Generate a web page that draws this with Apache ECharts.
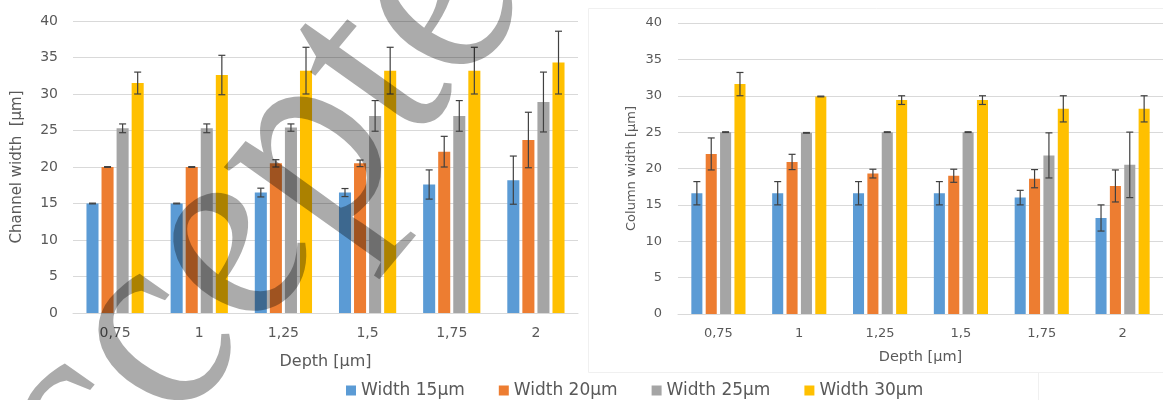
<!DOCTYPE html>
<html>
<head>
<meta charset="utf-8">
<script src="https://cdn.jsdelivr.net/npm/echarts@6/dist/echarts.min.js"></script>
<style>
html,body{margin:0;padding:0;background:#fff;}
#chart{width:1163px;height:400px;}
</style>
</head>
<body>
<div id="chart"></div>
<script>
// ---- data ----
const categories = ['0,75', '1', '1,25', '1,5', '1,75', '2'];
const seriesNames = ['Width 15µm', 'Width 20µm', 'Width 25µm', 'Width 30µm'];

// Left chart: channel width
const channel15 = [15.0, 15.0, 16.5, 16.5, 17.6, 18.2];
const channel15Err = [0.05, 0.05, 0.6, 0.55, 2.0, 3.3];
const channel20 = [20.0, 20.0, 20.5, 20.5, 22.1, 23.7];
const channel20Err = [0.05, 0.05, 0.5, 0.45, 2.1, 3.8];
const channel25 = [25.3, 25.3, 25.4, 27.0, 27.0, 28.9];
const channel25Err = [0.6, 0.6, 0.5, 2.1, 2.1, 4.1];
const channel30 = [31.5, 32.6, 33.2, 33.2, 33.2, 34.3];
const channel30Err = [1.5, 2.7, 3.2, 3.2, 3.2, 4.3];

// Right chart: column width
const column15 = [16.6, 16.6, 16.6, 16.6, 16.0, 13.2];
const column15Err = [1.6, 1.6, 1.6, 1.6, 1.0, 1.8];
const column20 = [22.0, 20.9, 19.3, 19.0, 18.6, 17.6];
const column20Err = [2.2, 1.05, 0.6, 0.9, 1.25, 2.2];
const column25 = [25.0, 24.9, 25.0, 25.0, 21.8, 20.5];
const column25Err = [0.05, 0.05, 0.05, 0.05, 3.1, 4.5];
const column30 = [31.6, 29.9, 29.4, 29.4, 28.2, 28.2];
const column30Err = [1.6, 0.05, 0.6, 0.6, 1.8, 1.8];

const yTicks = [0, 5, 10, 15, 20, 25, 30, 35, 40];
const watermarkText = 'Accepted';
// ---------------

const colors = ['#5B9BD5', '#ED7D31', '#A5A5A5', '#FFC000'];
const textColor = '#595959';
const gridColor = '#d9d9d9';
const FONT = '"DejaVu Sans", sans-serif';

const leftVals = [channel15, channel20, channel25, channel30];
const leftErrs = [channel15Err, channel20Err, channel25Err, channel30Err];
const rightVals = [column15, column20, column25, column30];
const rightErrs = [column15Err, column20Err, column25Err, column30Err];

const layouts = [
  { catGap: 0.32, barGap: 0.25 },
  { catGap: 0.33, barGap: 0.30 }
];

function errorRenderer(seriesIdx, layout) {
  return function (params, api) {
    const ci = api.value(0), v = api.value(1), e = api.value(2);
    const band = api.size([1, 0])[0];
    const group = band * (1 - layout.catGap);
    const bw = group / (4 + 3 * layout.barGap);
    const x0 = api.coord([ci, v])[0] - group / 2 + seriesIdx * bw * (1 + layout.barGap) + bw / 2;
    const yHi = api.coord([ci, v + e])[1];
    const yLo = api.coord([ci, v - e])[1];
    const cap = 3.5;
    const st = { stroke: '#404040', lineWidth: 1.2 };
    return {
      type: 'group',
      children: [
        { type: 'line', shape: { x1: x0, y1: yHi, x2: x0, y2: yLo }, style: st },
        { type: 'line', shape: { x1: x0 - cap, y1: yHi, x2: x0 + cap, y2: yHi }, style: st },
        { type: 'line', shape: { x1: x0 - cap, y1: yLo, x2: x0 + cap, y2: yLo }, style: st }
      ]
    };
  };
}

const series = [];
[[leftVals, leftErrs], [rightVals, rightErrs]].forEach(function (pair, gi) {
  const vals = pair[0], errs = pair[1];
  const lay = layouts[gi];
  vals.forEach(function (arr, si) {
    series.push({
      type: 'bar',
      name: seriesNames[si],
      xAxisIndex: gi, yAxisIndex: gi,
      data: arr,
      barCategoryGap: (lay.catGap * 100) + '%',
      barGap: (lay.barGap * 100) + '%',
      itemStyle: { color: colors[si] },
      z: 2
    });
  });
  vals.forEach(function (arr, si) {
    series.push({
      type: 'custom',
      name: 'err' + gi + '_' + si,
      xAxisIndex: gi, yAxisIndex: gi,
      data: arr.map(function (v, i) { return [i, v, errs[si][i]]; }),
      encode: { x: 0, y: 1 },
      renderItem: errorRenderer(si, lay),
      z: 5,
      silent: true
    });
  });
});

function yAxis(gi, name, fontSize, nameSize, nameGap, margin) {
  return {
    type: 'value', gridIndex: gi,
    min: yTicks[0], max: yTicks[yTicks.length - 1], interval: yTicks[1] - yTicks[0],
    name: name, nameLocation: 'middle', nameRotate: 90, nameGap: nameGap,
    nameTextStyle: { color: textColor, fontSize: nameSize, fontFamily: FONT },
    axisLine: { show: false }, axisTick: { show: false },
    axisLabel: { color: textColor, fontSize: fontSize, fontFamily: FONT, margin: margin },
    splitLine: { lineStyle: { color: gridColor, width: 1 } }
  };
}
function xAxis(gi, fontSize, nameSize, nameGap, margin) {
  return {
    type: 'category', gridIndex: gi, data: categories,
    name: 'Depth [µm]', nameLocation: 'middle', nameGap: nameGap,
    nameTextStyle: { color: textColor, fontSize: nameSize, fontFamily: FONT },
    axisLine: { lineStyle: { color: gridColor } }, axisTick: { show: false },
    axisLabel: { color: textColor, fontSize: fontSize, fontFamily: FONT, margin: margin }
  };
}

const SX = 1.3;
const option = {
  animation: false,
  backgroundColor: '#fff',
  grid: [
    { left: 73, top: 21, width: 505, height: 292 },
    { left: 678, top: 23, width: 490, height: 291 }
  ],
  xAxis: [xAxis(0, 14, 16, 41, 13), xAxis(1, 13, 14.5, 36, 13)],
  yAxis: [
    yAxis(0, 'Channel width  [µm]', 14, 15, 48, 15),
    yAxis(1, 'Column width [µm]', 13, 13, 40, 16)
  ],
  legend: {
    data: seriesNames,
    left: 341, top: 377,
    itemWidth: 10, itemHeight: 10, itemGap: 34,
    icon: 'rect',
    textStyle: { color: textColor, fontSize: 17, fontFamily: FONT, padding: [0, 0, 0, 0] }
  },
  series: series,
  graphic: [
    { type: 'rect', shape: { x: 588.5, y: 8.5, width: 600, height: 364 },
      style: { fill: 'none', stroke: '#f0f0f0', lineWidth: 1 }, z: 0, silent: true },
    { type: 'rect', shape: { x: 1038.5, y: 372.5, width: 130, height: 40 },
      style: { fill: 'none', stroke: '#f0f0f0', lineWidth: 1 }, z: 0, silent: true },
    { type: 'group', x: 0, y: 0, scaleX: SX, scaleY: 1, z: 100, silent: true,
      children: [
        { type: 'text', x: 189, y: 228, rotation: 1.0, z: 100, silent: true,
          style: { text: watermarkText, font: 'italic 240px "Liberation Serif", serif',
            fill: 'rgba(0,0,0,0.33)', align: 'center', verticalAlign: 'middle' } }
      ] }
  ]
};

const chart = echarts.init(document.getElementById('chart'), null, { renderer: 'canvas' });
chart.setOption(option);
</script>
</body>
</html>
